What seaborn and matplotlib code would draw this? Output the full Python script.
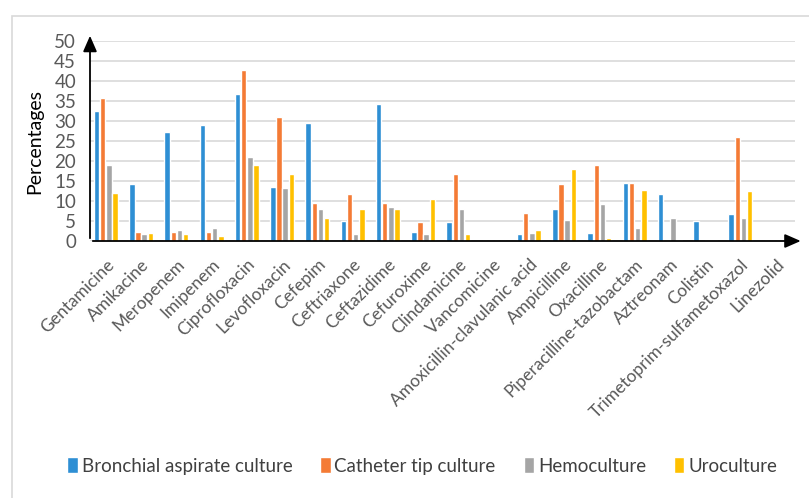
import matplotlib
matplotlib.use("Agg")
import matplotlib.pyplot as plt
import seaborn as sns
import pandas as pd
from matplotlib.patches import Rectangle

antibiotics = ["Gentamicine", "Amikacine", "Meropenem", "Imipenem", "Ciprofloxacin",
               "Levofloxacin", "Cefepim", "Ceftriaxone", "Ceftazidime", "Cefuroxime",
               "Clindamicine", "Vancomicine", "Amoxicillin-clavulanic acid", "Ampicilline",
               "Oxacilline", "Piperacilline-tazobactam", "Aztreonam", "Colistin",
               "Trimetoprim-sulfametoxazol", "Linezolid"]

bronchial = [32.6, 14.3, 27.2, 28.9, 36.7, 13.6, 29.5, 5.0, 34.3, 2.3,
             4.8, 0, 1.7, 8.1, 2.0, 14.6, 11.8, 5.0, 6.8, 0]
catheter = [35.7, 2.3, 2.3, 2.3, 42.8, 30.9, 9.5, 11.8, 9.5, 4.8,
            16.7, 0, 7.1, 14.3, 19.0, 14.6, 0, 0, 26.1, 0]
hemo = [19.0, 1.7, 2.7, 3.3, 21.0, 13.2, 8.1, 1.7, 8.4, 1.7,
        8.1, 0, 2.0, 5.3, 9.2, 3.3, 5.7, 0.3, 5.7, 0]
uro = [11.9, 2.0, 1.7, 1.3, 19.0, 16.7, 5.7, 8.1, 8.1, 10.5,
       1.7, 0, 2.7, 18.0, 0.7, 12.8, 0.3, 0.3, 12.5, 0]

series_names = ["Bronchial aspirate culture", "Catheter tip culture", "Hemoculture", "Uroculture"]
colors = ["#2E8FD4", "#F47B35", "#A5A5A5", "#FFC000"]

rows = []
for name, vals in zip(series_names, [bronchial, catheter, hemo, uro]):
    for ab, v in zip(antibiotics, vals):
        rows.append({"Antibiotic": ab, "Culture": name, "Percentage": v})
df = pd.DataFrame(rows)

sns.set_theme(style="white")
plt.rcParams['font.family'] = ['Lato', 'DejaVu Sans']

fig = plt.figure(figsize=(8.09, 4.98), dpi=100)
ax = fig.add_axes([90/809, 1-241/498, (795-90)/809, 200/498])

sns.barplot(data=df, x="Antibiotic", y="Percentage", hue="Culture",
            palette=colors, width=0.7, gap=0.12, ax=ax, legend=True,
            saturation=1)

ax.set_ylim(0, 50)
ax.set_xlim(-0.45, 19.55)
ax.set_yticks(range(0, 51, 5))
ax.yaxis.grid(True, color="#D9D9D9", linewidth=1.2)
ax.set_axisbelow(True)
for s in ["top", "right", "left", "bottom"]:
    ax.spines[s].set_visible(False)

ax.tick_params(axis="y", labelsize=13.5, colors="#595959", length=0, pad=10)
ax.tick_params(axis="x", labelsize=12.5, colors="#595959", length=0, pad=11)
for lab in ax.get_xticklabels():
    lab.set_rotation(45)
    lab.set_ha("right")
    lab.set_rotation_mode("anchor")

ax.set_xlabel("")
ax.set_ylabel("Percentages", fontsize=14, color="black")
ax.yaxis.set_label_coords(-0.066, 0.5)

# axis arrows
ax.annotate("", xy=(0, 1.04), xytext=(0, 0), xycoords="axes fraction",
            arrowprops=dict(arrowstyle="-|>,head_width=0.35,head_length=0.8",
                            color="black", lw=1.3), annotation_clip=False)
ax.annotate("", xy=(1.012, 0), xytext=(0, 0), xycoords="axes fraction",
            arrowprops=dict(arrowstyle="-|>,head_width=0.35,head_length=0.8",
                            color="black", lw=1.3), annotation_clip=False)

handles, labels = ax.get_legend_handles_labels()
ax.get_legend().remove()
fig.legend(handles, labels, loc="center", bbox_to_anchor=(0.522, 1-466/498),
           ncol=4, frameon=False, fontsize=13.5, handlelength=0.55, handleheight=0.9,
           handletextpad=0.2, columnspacing=1.5, labelcolor="#404040")

# outer frame
fig.patches.append(Rectangle((12/809, -0.2), 1.2, 1-16/498+0.2, transform=fig.transFigure,
                             fill=False, edgecolor="#D9D9D9", linewidth=1.2))

fig.savefig("out.png", dpi=100, facecolor="white")
